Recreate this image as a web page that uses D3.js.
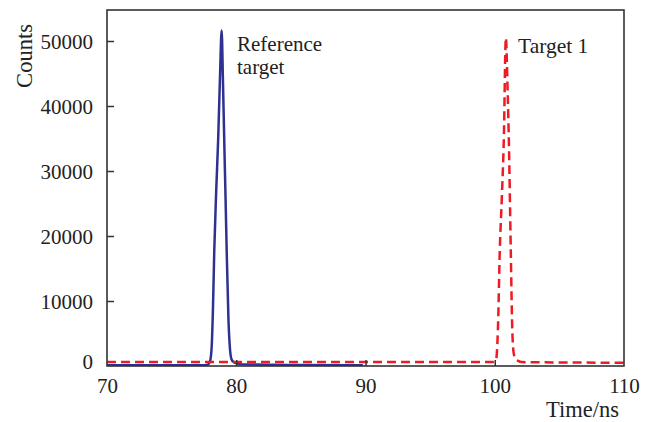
<!DOCTYPE html>
<html>
<head>
<meta charset="utf-8">
<script src="https://cdn.jsdelivr.net/npm/d3@7"></script>
<style>
html,body{margin:0;padding:0;background:#fff;}
svg{display:block;}
</style>
</head>
<body>
<svg id="chart" width="654" height="422"></svg>
<script>
// ---- data ----
const refTime   = [70, 77.5, 77.8, 77.97, 78.1, 78.2, 78.3, 78.45, 78.6, 78.75, 78.87, 78.97, 79.07, 79.17, 79.26, 79.4, 79.52, 79.64, 79.8, 80.05, 80.5, 85, 89.8];
const refCounts = [100, 100, 200, 700, 3000, 9000, 17800, 27000, 34800, 45000, 51600, 44000, 34800, 26000, 17800, 7000, 2500, 1000, 600, 400, 250, 150, 100];

const tgtTime   = [70, 99.9, 100.1, 100.25, 100.39, 100.55, 100.7, 100.86, 101.0, 101.09, 101.24, 101.35, 101.45, 101.6, 101.8, 102.1, 105, 110];
const tgtCounts = [600, 600, 900, 6000, 17800, 26000, 34800, 50500, 42000, 34800, 17800, 6000, 2200, 1100, 800, 600, 550, 500];

const xTicks = [70, 80, 90, 100, 110];
const yTicks = [0, 10000, 20000, 30000, 40000, 50000];

const xLabel = "Time/ns";
const yLabel = "Counts";
const refLabel = ["Reference", "target"];
const tgtLabel = "Target 1";

// ---- layout ----
const FONT = "'Liberation Serif', 'DejaVu Serif', 'Times New Roman', serif";
const svg = d3.select("#chart");
const L = 107, R = 624, T = 10, B = 366;
const x = d3.scaleLinear().domain([70, 110]).range([L, R]);
const y = d3.scaleLinear().domain([0, 54770]).range([B, T]);

const axisColor = "#333";

svg.append("defs").append("clipPath").attr("id", "clip")
  .append("rect").attr("x", L).attr("y", T).attr("width", R - L).attr("height", B - T);

const line = d3.line().x(d => x(d[0])).y(d => y(d[1])).curve(d3.curveMonotoneX);

const refData = refTime.map((t, i) => [t, refCounts[i]]);
const tgtData = tgtTime.map((t, i) => [t, tgtCounts[i]]);

const plot = svg.append("g").attr("clip-path", "url(#clip)");
plot.append("path").datum(refData)
  .attr("d", line).attr("fill", "none")
  .attr("stroke", "#2e3192").attr("stroke-width", 2.5).attr("stroke-linejoin", "round");
plot.append("path").datum(tgtData)
  .attr("d", line).attr("fill", "none")
  .attr("stroke", "#ed1c24").attr("stroke-width", 2.5)
  .attr("stroke-dasharray", "9,5");

// y axis (ticks inward)
const yAxis = d3.axisLeft(y).tickValues(yTicks).tickSizeInner(-7).tickSizeOuter(0).tickPadding(14)
  .tickFormat(d3.format("d"));
const gy = svg.append("g").attr("transform", `translate(${L},0)`).call(yAxis)
  .attr("font-family", FONT).attr("font-size", 21);
gy.select(".domain").remove();
gy.selectAll("line").attr("stroke", axisColor).attr("stroke-width", 1.5);
gy.selectAll("text").attr("fill", "#222")
  .attr("dy", d => d === 0 ? "0.12em" : "0.35em");
gy.selectAll(".tick").filter(d => d === 0).select("line").remove();

// x axis (ticks inward)
const xAxis = d3.axisBottom(x).tickValues(xTicks).tickSizeInner(-6).tickSizeOuter(0).tickPadding(12)
  .tickFormat(d3.format("d"));
const gx = svg.append("g").attr("transform", `translate(0,${B})`).call(xAxis)
  .attr("font-family", FONT).attr("font-size", 21);
gx.select(".domain").remove();
gx.selectAll("line").attr("stroke", axisColor).attr("stroke-width", 1.5);
gx.selectAll(".tick").filter(d => d === 70 || d === 110).select("line").remove();
gx.selectAll("text").attr("fill", "#222");

// frame
svg.append("rect").attr("x", L).attr("y", T).attr("width", R - L).attr("height", B - T)
  .attr("fill", "none").attr("stroke", axisColor).attr("stroke-width", 1.6);

const txt = (sel) => sel.attr("font-family", FONT).attr("fill", "#222");

// axis titles
svg.append("text").attr("x", 619).attr("y", 417).attr("text-anchor", "end")
  .attr("font-size", 22.5).call(txt).text(xLabel);
svg.append("text").attr("transform", "translate(32,56) rotate(-90)").attr("text-anchor", "middle")
  .attr("font-size", 22.5).call(txt).text(yLabel);

// annotations
const refText = svg.append("text").attr("x", 237).attr("y", 50.5).attr("font-size", 21).call(txt);
refText.selectAll("tspan").data(refLabel).join("tspan")
  .attr("x", 237).attr("dy", (d, i) => i === 0 ? 0 : 23.4).text(d => d);
svg.append("text").attr("x", 518).attr("y", 53).attr("font-size", 21.5).call(txt).text(tgtLabel);
</script>
</body>
</html>
